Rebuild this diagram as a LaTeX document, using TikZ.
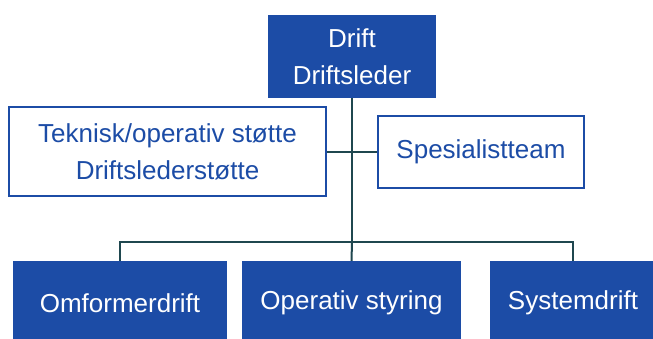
\documentclass[tikz,border=0pt]{standalone}
\usepackage{fontspec}
\setmainfont{Liberation Sans}
\definecolor{unitblue}{HTML}{1C4CA6}
\definecolor{linkteal}{HTML}{1F474F}
\tikzset{
  unit/.style={fill=unitblue, draw=none, text=white, align=center, inner sep=0pt,
    font=\fontsize{26}{37}\selectfont},
  staff/.style={fill=white, draw=unitblue, line width=2pt, text=unitblue, align=center,
    inner sep=0pt, font=\fontsize{26}{37}\selectfont},
  link/.style={draw=linkteal, line width=2pt}
}
\begin{document}
\begin{tikzpicture}[x=1pt, y=-1pt]
  \useasboundingbox (0,0) rectangle (653,338);
  \clip (0,0) rectangle (653,338);

  % management
  \node[unit, minimum width=168pt, minimum height=83pt] (top) at (352,56.5) {Drift\\Driftsleder};

  % staff functions
  \node[staff, minimum width=317pt, minimum height=89pt] (left) at (167.5,151.5)
    {Teknisk/operativ støtte\\Driftslederstøtte};
  \node[staff, minimum width=206pt, minimum height=72pt] (right) at (481,152) {Spesialistteam};

  % line units
  \node[unit, minimum width=214pt, minimum height=84pt] (b1) at (120,303) {Omformerdrift};
  \node[unit, minimum width=219pt, minimum height=84pt] (b2) at (351.5,303) {Operativ styring};
  \node[unit, minimum width=166pt, minimum height=84pt] (b3) at (573,303) {Systemdrift};

  % connectors
  \coordinate (j) at (352,242);
  \draw[link] (top.south) -- (j);
  \draw[link] (b1.north) |- (j) -| (b3.north);
  \draw[link] (j) -- (b2.north);
  \draw[link] (left.east) -- (left.east -| top.south);
  \draw[link] (right.west) -- (right.west -| top.south);
\end{tikzpicture}
\end{document}
